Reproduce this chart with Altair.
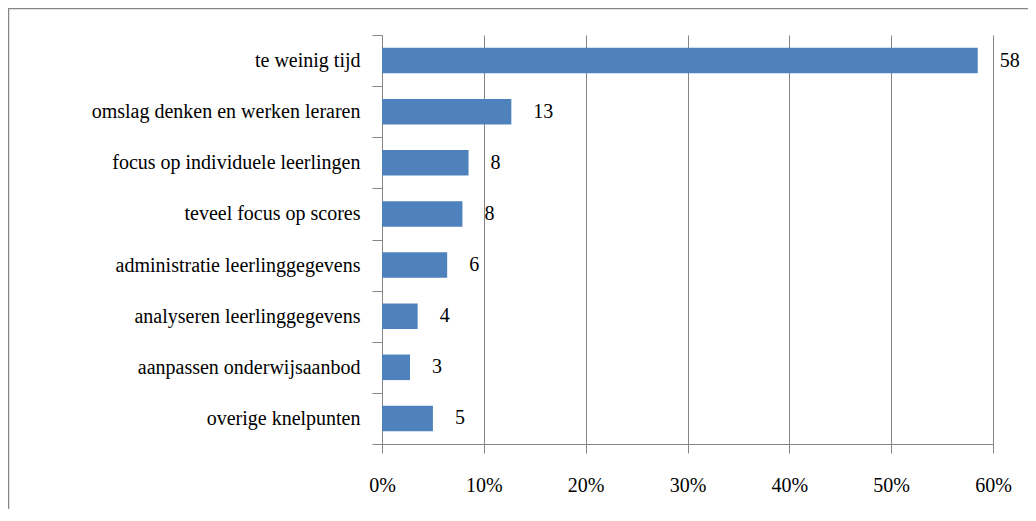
import altair as alt
import pandas as pd

categories = [
    "te weinig tijd",
    "omslag denken en werken leraren",
    "focus op individuele leerlingen",
    "teveel focus op scores",
    "administratie leerlinggegevens",
    "analyseren leerlinggegevens",
    "aanpassen onderwijsaanbod",
    "overige knelpunten",
]
percentages = [58.5, 12.7, 8.5, 7.9, 6.4, 3.5, 2.75, 5.0]
value_labels = [58, 13, 8, 8, 6, 4, 3, 5]
x_ticks = [0, 10, 20, 30, 40, 50, 60]

df = pd.DataFrame({"cat": categories, "pct": percentages, "lab": value_labels})

FONT = "'Liberation Serif', 'DejaVu Serif', serif"
GRAY = "#868686"
SIZE = 20

x_enc = alt.X(
    "pct:Q",
    scale=alt.Scale(domain=[0, 60], nice=False),
    axis=alt.Axis(
        values=x_ticks,
        labelExpr="datum.value + '%'",
        title=None,
        grid=True,
        gridColor=GRAY,
        domainColor=GRAY,
        tickColor=GRAY,
        tickSize=9,
        labelPadding=22,
        labelFont=FONT,
        labelFontSize=SIZE,
        labelColor="black",
        labelFlush=False,
    ),
)
y_enc = alt.Y(
    "cat:N",
    sort=None,
    scale=alt.Scale(paddingInner=0, paddingOuter=0),
    axis=alt.Axis(
        title=None,
        tickBand="extent",
        domainColor=GRAY,
        tickColor=GRAY,
        tickSize=10,
        labelPadding=12,
        labelFont=FONT,
        labelFontSize=SIZE,
        labelColor="black",
        labelLimit=400,
    ),
)

bars = alt.Chart(df).mark_bar(
    color="#4F81BD", height=alt.RelativeBandSize(0.5)
).encode(x=x_enc, y=y_enc)

texts = alt.Chart(df).mark_text(
    align="left", baseline="middle", dx=22, font=FONT, fontSize=SIZE, color="black"
).encode(x="pct:Q", y=alt.Y("cat:N", sort=None), text="lab:Q")

frame = alt.Chart(alt.Data(values=[{"a": 1}])).mark_rect(
    fillOpacity=0, stroke=GRAY, strokeWidth=1.5
).encode(
    x=alt.value(-373.5), x2=alt.value(700), y=alt.value(-26.5), y2=alt.value(520)
)

chart = alt.layer(frame, bars, texts).properties(
    width=611,
    height=409,
    autosize=alt.AutoSizeParams(type="none"),
    padding={"left": 374, "top": 27, "right": 35, "bottom": 65},
).configure_view(stroke=None)

chart.save("out.html", embed_options={"renderer": "svg", "actions": False})
